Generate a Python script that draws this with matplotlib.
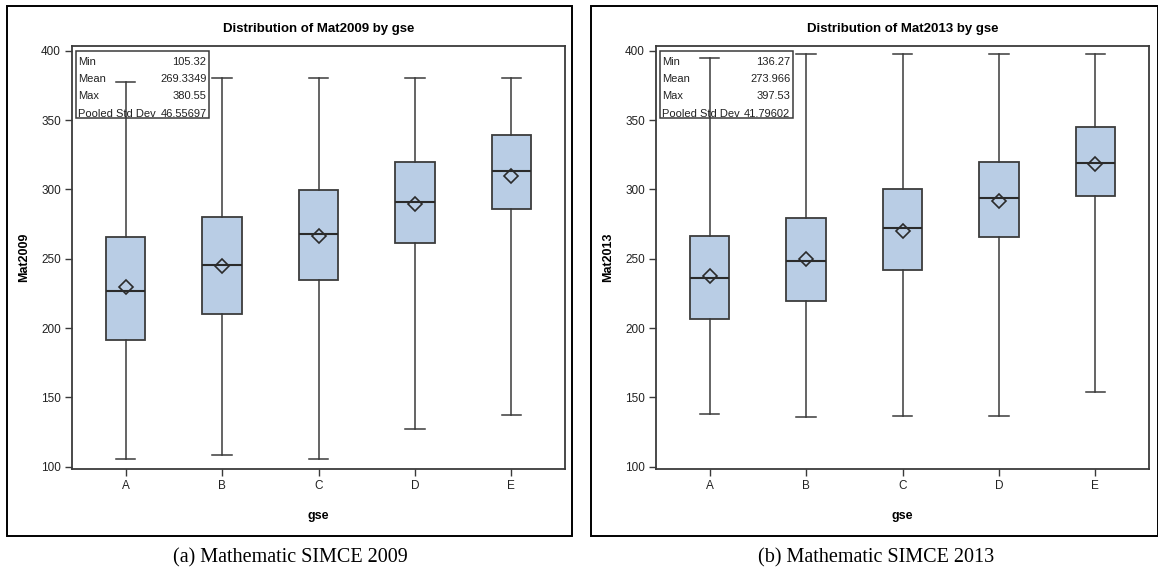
import matplotlib
matplotlib.use("Agg")
import matplotlib.pyplot as plt
from matplotlib.patches import Rectangle

plt.rcParams['font.family'] = ['Liberation Sans Narrow', 'Liberation Sans', 'DejaVu Sans']

groups = ["A", "B", "C", "D", "E"]

# 2009 scores by gse
low09 = [105.3, 108.2, 105.32, 126.9, 137.5]
q1_09 = [191.4, 210.0, 234.5, 261.6, 285.7]
med09 = [226.5, 245.5, 267.8, 291.2, 313.4]
mean09 = [229.4, 244.8, 266.4, 289.5, 309.8]
q3_09 = [265.5, 279.9, 299.8, 319.8, 339.1]
high09 = [377.6, 380.55, 380.55, 380.55, 380.55]
summary09 = [("Min", "105.32"), ("Mean", "269.3349"), ("Max", "380.55"),
             ("Pooled Std Dev", "46.55697")]

# 2013 scores by gse
low13 = [138.3, 135.9, 136.27, 136.8, 154.1]
q1_13 = [206.8, 219.6, 241.8, 265.7, 295.1]
med13 = [236.1, 248.2, 272.2, 293.6, 319.1]
mean13 = [237.8, 249.9, 270.3, 291.9, 318.2]
q3_13 = [266.4, 279.2, 300.1, 319.8, 345.1]
high13 = [394.7, 397.53, 397.53, 397.53, 397.53]
summary13 = [("Min", "136.27"), ("Mean", "273.966"), ("Max", "397.53"),
             ("Pooled Std Dev", "41.79602")]

yticks = [100, 150, 200, 250, 300, 350, 400]

W, H = 1158, 577
fig = plt.figure(figsize=(W / 100, H / 100), dpi=100)


def panel(x0, frame, var, lo, q1, med, mean, q3, hi, summary, caption, cap_x):
    # outer frame of the panel
    fx0, fy0, fx1, fy1 = frame
    fig.patches.append(Rectangle((fx0 / W, 1 - fy1 / H), (fx1 - fx0) / W, (fy1 - fy0) / H,
                                 transform=fig.transFigure, fill=False,
                                 edgecolor="black", linewidth=1.4))
    ax = fig.add_axes([x0 / W, 1 - 469 / H, 493 / W, (469 - 45.7) / H])
    stats = [dict(whislo=a, q1=b, med=c, mean=d, q3=e, whishi=f)
             for a, b, c, d, e, f in zip(lo, q1, med, mean, q3, hi)]
    ax.bxp(stats, positions=range(len(groups)), widths=0.41, patch_artist=True,
           showmeans=True, showfliers=False, capwidths=0.2,
           boxprops=dict(facecolor="#b9cde5", edgecolor="#3c3c3c", linewidth=1.3),
           medianprops=dict(color="#2b2b2b", linewidth=1.5),
           whiskerprops=dict(color="#3a3a3a", linewidth=1.1),
           capprops=dict(color="#3a3a3a", linewidth=1.1),
           meanprops=dict(marker="D", markersize=7, markerfacecolor="none",
                          markeredgecolor="#2b2b2b", markeredgewidth=1.2))
    ax.set_xlim(-0.556, 4.556)
    ax.set_ylim(98.3, 403.7)
    ax.set_xticks(range(len(groups)))
    ax.set_xticklabels(groups)
    ax.set_yticks(yticks)
    ax.tick_params(length=5, width=1, color="#3a3a3a", labelsize=8.5,
                   labelcolor="#222222", pad=3)
    for s in ax.spines.values():
        s.set_color("#3a3a3a")
        s.set_linewidth(1.3)
    ax.set_ylabel(var, fontweight="bold", fontsize=9)
    ax.yaxis.set_label_coords(-0.085, 0.5)
    ax.set_xlabel("gse", fontweight="bold", fontsize=9)
    ax.xaxis.set_label_coords(0.5, -0.097)
    ax.text(0.5, 1.039, "Distribution of " + var + " by gse", transform=ax.transAxes,
            ha="center", va="center", fontweight="bold", fontsize=9.5)

    # summary statistics inset
    bx0, bx1 = 4 / 493, 137 / 493
    by1, by0 = (469 - 51) / 423.3, (469 - 118) / 423.3
    ax.add_patch(Rectangle((bx0, by0), bx1 - bx0, by1 - by0, transform=ax.transAxes,
                           fill=False, edgecolor="#3a3a3a", linewidth=1.1))
    for i, (name, val) in enumerate(summary):
        yy = (469 - (61.5 + 17.4 * i)) / 423.3
        ax.text(bx0 + 2.5 / 493, yy, name, transform=ax.transAxes, ha="left",
                va="center", fontsize=8, color="#222222")
        ax.text(bx1 - 2.5 / 493, yy, val, transform=ax.transAxes, ha="right",
                va="center", fontsize=8, color="#222222")

    fig.text(cap_x / W, 1 - 558 / H, caption, ha="center", va="center",
             family="Liberation Serif", fontsize=14.5)


panel(72, (7.3, 6, 572.3, 536), "Mat2009", low09, q1_09, med09, mean09, q3_09, high09,
      summary09, "(a) Mathematic SIMCE 2009", 290)
panel(656, (591, 6, 1157.5, 536), "Mat2013", low13, q1_13, med13, mean13, q3_13, high13,
      summary13, "(b) Mathematic SIMCE 2013", 876)

fig.savefig("out.png", dpi=100)
